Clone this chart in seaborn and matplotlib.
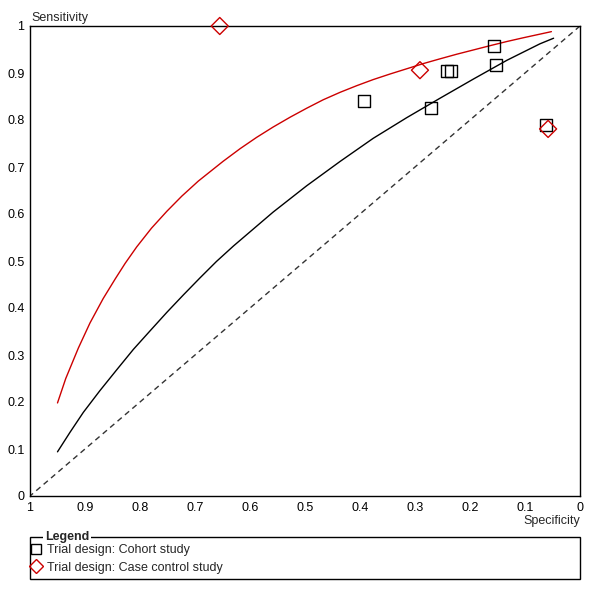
import matplotlib
matplotlib.use("Agg")
import matplotlib.pyplot as plt
from matplotlib.lines import Line2D
from matplotlib.patches import Rectangle
import seaborn as sns
import pandas as pd

# ---- data ----
cohort_spec = [0.393, 0.271, 0.242, 0.235, 0.156, 0.153, 0.062]
cohort_sens = [0.840, 0.826, 0.904, 0.904, 0.957, 0.917, 0.789]

case_spec = [0.655, 0.291, 0.058]
case_sens = [1.000, 0.906, 0.781]

# SROC curves
case_curve_spec = [0.950, 0.935, 0.912, 0.891, 0.867, 0.845, 0.827, 0.806, 0.779,
                   0.751, 0.724, 0.694, 0.649, 0.618, 0.588, 0.558, 0.527, 0.497,
                   0.467, 0.436, 0.406, 0.376, 0.345, 0.315, 0.285, 0.255, 0.224,
                   0.194, 0.164, 0.133, 0.103, 0.052]
case_curve_sens = [0.198, 0.250, 0.315, 0.368, 0.420, 0.462, 0.495, 0.530, 0.570,
                   0.606, 0.638, 0.670, 0.712, 0.739, 0.763, 0.785, 0.806, 0.825,
                   0.843, 0.859, 0.873, 0.886, 0.898, 0.909, 0.920, 0.930, 0.940,
                   0.949, 0.958, 0.967, 0.975, 0.988]

cohort_curve_spec = [0.950, 0.927, 0.903, 0.873, 0.842, 0.812, 0.782, 0.751, 0.721,
                     0.691, 0.661, 0.630, 0.600, 0.558, 0.497, 0.436, 0.376, 0.315,
                     0.255, 0.194, 0.133, 0.073, 0.048]
cohort_curve_sens = [0.094, 0.136, 0.178, 0.224, 0.269, 0.312, 0.351, 0.391, 0.428,
                     0.464, 0.499, 0.532, 0.562, 0.604, 0.660, 0.712, 0.761, 0.805,
                     0.846, 0.887, 0.927, 0.962, 0.974]

diag_spec = [1.0, 0.0]
diag_sens = [0.0, 1.0]

tick_vals = [0, 0.1, 0.2, 0.3, 0.4, 0.5, 0.6, 0.7, 0.8, 0.9, 1]
tick_labels = ["0", "0.1", "0.2", "0.3", "0.4", "0.5", "0.6", "0.7", "0.8", "0.9", "1"]

legend_labels = ["Trial design: Cohort study", "Trial design: Case control study"]

RED = "#cc0000"

sns.set_style("white")
plt.rcParams["font.family"] = ["Liberation Sans", "DejaVu Sans"]
plt.rcParams["font.size"] = 9

fig = plt.figure(figsize=(6, 6), dpi=100)
ax = fig.add_axes([30 / 600, 104 / 600, 550 / 600, 470 / 600])

case_df = pd.DataFrame({"spec": case_curve_spec, "sens": case_curve_sens})
cohort_df = pd.DataFrame({"spec": cohort_curve_spec, "sens": cohort_curve_sens})

sns.lineplot(data=case_df, x="spec", y="sens", sort=False,
             color=RED, linewidth=1.0, ax=ax, legend=False)
sns.lineplot(data=cohort_df, x="spec", y="sens", sort=False,
             color="black", linewidth=1.0, ax=ax, legend=False)
sns.lineplot(x=diag_spec, y=diag_sens, color="#333333", linewidth=1.0,
             linestyle=(0, (4, 3)), ax=ax, legend=False)

sns.scatterplot(x=cohort_spec, y=cohort_sens, marker="s", s=75,
                facecolor="none", edgecolor="black", linewidth=1.0, ax=ax, legend=False,
                zorder=4)
sns.scatterplot(x=case_spec, y=case_sens, marker="D", s=75,
                facecolor="none", edgecolor=RED, linewidth=1.0, ax=ax, legend=False,
                clip_on=False, zorder=5)

ax.set_xlim(1, 0)
ax.set_ylim(0, 1)
ax.set_xticks(tick_vals)
ax.set_xticklabels(tick_labels)
ax.set_yticks(tick_vals)
ax.set_yticklabels(tick_labels)
ax.tick_params(direction="inout", length=6, width=1, colors="black", labelsize=9, pad=1)
ax.set_xlabel("")
ax.set_ylabel("")
for sp in ax.spines.values():
    sp.set_visible(True)
    sp.set_color("black")
    sp.set_linewidth(1.0)

fig.text(31 / 600, 1 - 18 / 600, "Sensitivity", ha="left", va="center", fontsize=9)
fig.text(580 / 600, 1 - 521 / 600, "Specificity", ha="right", va="center", fontsize=9)

# legend box
fig.patches.append(Rectangle((30 / 600, 21 / 600), 550 / 600, 42 / 600,
                             transform=fig.transFigure, fill=False,
                             edgecolor="black", linewidth=1.0))
fig.text(45 / 600, 1 - 537 / 600, "Legend", ha="left", va="center", fontsize=9,
         fontweight="bold",
         bbox=dict(facecolor="white", edgecolor="none", pad=1.5))
handles = [
    Line2D([], [], marker="s", linestyle="none", markersize=7, markerfacecolor="none",
           markeredgecolor="black", markeredgewidth=1.0),
    Line2D([], [], marker="D", linestyle="none", markersize=7.2, markerfacecolor="none",
           markeredgecolor=RED, markeredgewidth=1.0),
]
fig.legend(handles, legend_labels, loc="upper left",
           bbox_to_anchor=(31 / 600, 1 - 544 / 600), frameon=False,
           handlelength=0.8, handletextpad=0.45, labelspacing=0.45,
           borderpad=0, borderaxespad=0, fontsize=9)

fig.savefig("out.png", dpi=100)
